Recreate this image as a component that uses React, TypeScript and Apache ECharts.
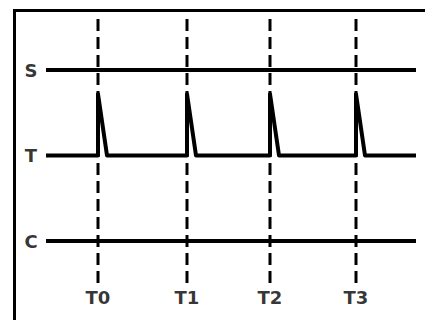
import React, { useEffect, useRef } from "react";
import * as echarts from "echarts";

// Signal rows (bottom to top) and their levels
const signalNames = ["C", "T", "S"];
const signalLevels = [0, 1, 2];
// Time markers
const markerLabels = ["T0", "T1", "T2", "T3"];
const markerTimes = [98, 187, 270, 356];
// Pulse on the T signal at each marker
const pulseHeight = 0.72;
const pulseDecay = 9;
// Extent of the signal lines in time units
const lineStart = 46;
const lineEnd = 416;
// Dashed marker extent and label level
const markerLow = -0.49;
const markerHigh = 2.61;
const markerLabelLevel = -0.655;

export default function App() {
  const ref = useRef<HTMLDivElement>(null);
  useEffect(() => {
    if (!ref.current) return;
    const chart = echarts.init(ref.current, null, { renderer: "svg" });
    const tLevel = signalLevels[1];
    const tData: number[][] = [[lineStart, tLevel]];
    markerTimes.forEach((t) => {
      tData.push([t, tLevel], [t, tLevel + pulseHeight], [t + pulseDecay, tLevel]);
    });
    tData.push([lineEnd, tLevel]);

    const lineSeries = signalNames.map((name, i) => ({
      type: "line",
      name,
      data: name === "T" ? tData : [[lineStart, signalLevels[i]], [lineEnd, signalLevels[i]]],
      symbol: "none",
      clip: false,
      lineStyle: { color: "#000", width: 4, join: "round" },
      z: 3,
    }));
    const markerSeries = markerTimes.map((t) => ({
      type: "line",
      data: [[t, markerLow], [t, markerHigh]],
      symbol: "none",
      clip: false,
      lineStyle: { color: "#000", width: 3, type: [12, 6] },
      z: 2,
    }));
    const textStyle = {
      color: "#000",
      fontFamily: "DejaVu Sans, sans-serif",
      fontWeight: "bold",
      fontSize: 18,
      textBorderWidth: 0,
      textBorderColor: "transparent",
    };
    chart.setOption({
      animation: false,
      backgroundColor: "#fff",
      grid: { left: 0, right: 0, top: 0, bottom: 0 },
      xAxis: { type: "value", min: 0, max: 425, show: false },
      yAxis: { type: "value", min: -0.924, max: 2.819, show: false },
      graphic: [
        {
          type: "polyline",
          shape: { points: [[14.5, 320], [14.5, 10.5], [425, 10.5]] },
          style: { stroke: "#000", lineWidth: 3, fill: "none" },
          z: 10,
        },
      ],
      series: [
        ...markerSeries,
        ...lineSeries,
        {
          type: "scatter",
          symbolSize: 0,
          clip: false,
          itemStyle: { color: "#000" },
          data: signalNames.map((n, i) => ({ value: [31, signalLevels[i]], name: n })),
          label: { show: true, position: "inside", formatter: "{b}", ...textStyle },
        },
        {
          type: "scatter",
          symbolSize: 0,
          clip: false,
          itemStyle: { color: "#000" },
          data: markerLabels.map((n, i) => ({ value: [markerTimes[i], markerLabelLevel], name: n })),
          label: { show: true, position: "inside", formatter: "{b}", ...textStyle },
        },
      ],
    });
    return () => chart.dispose();
  }, []);
  return (
    <div
      ref={ref}
      style={{ position: "fixed", left: 0, top: 0, width: 425, height: 320 }}
    />
  );
}
